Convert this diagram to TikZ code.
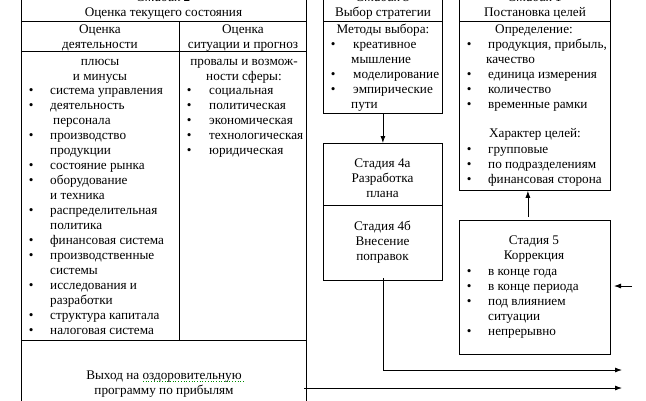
\documentclass[tikz,border=0pt]{standalone}
\usepackage{fontspec}
\setmainfont{Liberation Serif}
\usetikzlibrary{arrows.meta}
\newcommand\fs{\fontsize{13.2}{15}\selectfont}
\newcommand\ctr[1]{\begin{tabular}{@{}c@{}}#1\end{tabular}}
\newenvironment{blt}[1]{\begin{tabular}{@{}p{#1}@{}l@{}}}{\end{tabular}}
\tikzset{
  box/.style={draw,line width=.8pt,inner sep=0,anchor=north west},
  txt/.style={inner sep=0,font=\fs,anchor=north},
  lst/.style={inner sep=0,font=\fs,anchor=north west},
  arr/.style={line width=.8pt,-{Latex[length=7pt,width=5pt]}}
}
\begin{document}
\begin{tikzpicture}[x=1pt,y=-1pt,line join=miter]
\clip (0,0) rectangle (646,400);
% boxes
\node[box,minimum width=285pt,minimum height=444pt] (st2) at (21,-14) {};
\node[box,minimum width=119pt,minimum height=127pt] (st3) at (323,-14) {};
\node[box,minimum width=119pt,minimum height=137pt] (st4) at (323,143) {};
\node[box,minimum width=151pt,minimum height=204pt] (st1) at (459,-14) {};
\node[box,minimum width=151pt,minimum height=134pt] (st5) at (459,220) {};
% inner rules
\draw[line width=.8pt] (21,21) -- (306,21);
\draw[line width=.8pt] (21,51) -- (306,51);
\draw[line width=.8pt] (21,340) -- (306,340);
\draw[line width=.8pt] (179,21) -- (179,340);
\draw[line width=.8pt] (323,21) -- (442,21);
\draw[line width=.8pt] (459,21) -- (610,21);
\draw[line width=.8pt] (323,205) -- (442,205);
% stage 2
\node[txt] (t2) at (163.5,-9.5) {\ctr{\textit{Стадия 2}\\Оценка текущего состояния}};
\node[txt] (h2a) at (100,22.5) {\ctr{Оценка\\деятельности}};
\node[txt] (h2b) at (243,22.5) {\ctr{Оценка\\ситуации и прогноз}};
\node[txt] (p2a) at (100,54.5) {\ctr{плюсы\\и минусы}};
\node[txt] (p2b) at (244,54.5) {\ctr{провалы и возмож-\\ности сферы:}};
\node[lst] (l2a) at (28.7,83.5) {\begin{blt}{21.3pt}
\textbullet & система управления\\
\textbullet & деятельность\\
 & \hspace{3pt}персонала\\
\textbullet & производство\\
 & продукции\\
\textbullet & состояние рынка\\
\textbullet & оборудование\\
 & и техника\\
\textbullet & распределительная\\
 & политика\\
\textbullet & финансовая система\\
\textbullet & производственные\\
 & системы\\
\textbullet & исследования и\\
 & разработки\\
\textbullet & структура капитала\\
\textbullet & налоговая система
\end{blt}};
\node[lst] (l2b) at (186.7,83.5) {\begin{blt}{22.3pt}
\textbullet & социальная\\
\textbullet & политическая\\
\textbullet & экономическая\\
\textbullet & технологическая\\
\textbullet & юридическая
\end{blt}};
\node[txt] (out) at (164,368.5) {\ctr{Выход на оздоровительную\\программу по прибылям}};
\draw[green!55!black,dotted,line width=.7pt] (143,381.5) -- (245,381.5);
% stage 3
\node[txt] (t3) at (383,-9.5) {\ctr{\textit{Стадия 3}\\Выбор стратегии}};
\node[txt] (m3) at (383,22.5) {\ctr{Методы выбора:}};
\node[lst] (l3) at (330.7,37.5) {\begin{blt}{22.3pt}
\textbullet & креативное\\
 & \hspace{-2pt}мышление\\
\textbullet & моделирование\\
\textbullet & эмпирические\\
 & \hspace{-2pt}пути
\end{blt}};
% stage 4
\node[txt] (t4a) at (382.5,156.5) {\ctr{Стадия 4а\\Разработка\\плана}};
\node[txt] (t4b) at (382.5,219.5) {\ctr{Стадия 4б\\Внесение\\поправок}};
% stage 1
\node[txt] (t1) at (535,-9.5) {\ctr{\textit{Стадия 1}\\Постановка целей}};
\node[txt] (d1) at (534,22.5) {\ctr{Определение:}};
\node[lst] (l1a) at (466.7,37.5) {\begin{blt}{21.3pt}
\textbullet & продукция, прибыль,\\
 & \hspace{-2pt}качество\\
\textbullet & единица измерения\\
\textbullet & количество\\
\textbullet & временные рамки
\end{blt}};
\node[txt] (c1) at (535,126.5) {\ctr{Характер целей:}};
\node[lst] (l1b) at (466.7,142.5) {\begin{blt}{21.3pt}
\textbullet & групповые\\
\textbullet & по подразделениям\\
\textbullet & финансовая сторона
\end{blt}};
% stage 5
\node[txt] (t5) at (534,233.5) {\ctr{Стадия 5\\Коррекция}};
\node[lst] (l5) at (466.7,264.5) {\begin{blt}{21.3pt}
\textbullet & в конце года\\
\textbullet & в конце периода\\
\textbullet & под влиянием\\
 & ситуации\\
\textbullet & непрерывно
\end{blt}};
% connectors
\coordinate (e4) at (622,370);
\coordinate (e2s) at (304,388);
\coordinate (e2) at (622,388);
\coordinate (in5) at (632,286);
\coordinate (tip5) at (614,286);
\draw[arr] (st3.south) -- (st4.north);
\draw[arr,shorten <=3pt] ([xshift=-7pt]st5.north) -- ([xshift=-7pt]st1.south);
\draw[arr] ([yshift=3pt]st4.south) |- (e4);
\draw[arr] (e2s) -- (e2);
\draw[arr] (in5) -- (tip5);
\end{tikzpicture}
\end{document}
